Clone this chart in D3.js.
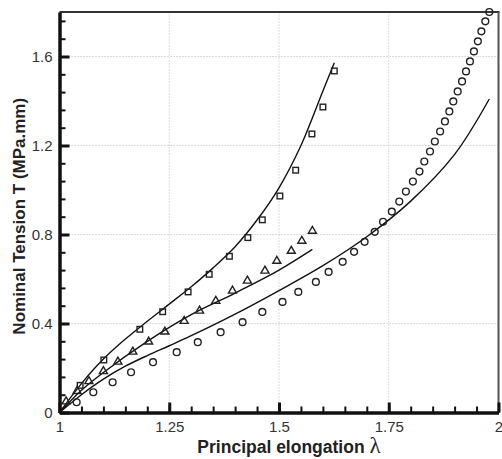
<!DOCTYPE html>
<html>
<head>
<meta charset="utf-8">
<script src="https://cdn.jsdelivr.net/npm/d3@7"></script>
<style>
  body { margin: 0; background: #fff; }
  text { font-family: "Liberation Sans", Arial, sans-serif; }
</style>
</head>
<body>
<div id="plot"></div>
<script>
// measured points (markers)
const sqLambda = [1.047, 1.101, 1.183, 1.235, 1.293, 1.341, 1.387, 1.429, 1.462, 1.502, 1.538, 1.575, 1.600, 1.626];
const sqT      = [0.122, 0.236, 0.374, 0.453, 0.542, 0.621, 0.702, 0.786, 0.866, 0.973, 1.089, 1.252, 1.373, 1.535];

const triLambda = [1.015, 1.040, 1.067, 1.100, 1.133, 1.167, 1.203, 1.240, 1.284, 1.319, 1.356, 1.394, 1.428, 1.468, 1.495, 1.528, 1.552, 1.576];
const triT      = [0.049, 0.096, 0.140, 0.185, 0.228, 0.273, 0.318, 0.363, 0.411, 0.457, 0.501, 0.547, 0.592, 0.637, 0.681, 0.726, 0.771, 0.816];

const cirLambda = [1.039, 1.077, 1.121, 1.163, 1.213, 1.267, 1.315, 1.367, 1.417, 1.462,
                   1.508, 1.544, 1.584, 1.613, 1.645, 1.671, 1.695, 1.718, 1.737, 1.757,
                   1.774, 1.789, 1.805, 1.820, 1.831, 1.844, 1.855, 1.867, 1.878, 1.888,
                   1.897, 1.907, 1.917, 1.926, 1.935, 1.944, 1.953, 1.961, 1.970, 1.979];
const cirT      = [0.046, 0.091, 0.136, 0.181, 0.226, 0.271, 0.316, 0.361, 0.406, 0.452,
                   0.497, 0.542, 0.587, 0.632, 0.677, 0.722, 0.767, 0.812, 0.857, 0.903,
                   0.948, 0.993, 1.038, 1.083, 1.128, 1.173, 1.218, 1.263, 1.308, 1.353,
                   1.398, 1.443, 1.488, 1.533, 1.578, 1.623, 1.668, 1.713, 1.758, 1.800];

// model curves
const sqFitLambda = [1.0, 1.05, 1.1, 1.15, 1.2, 1.25, 1.3, 1.35, 1.4, 1.45, 1.5, 1.55, 1.6, 1.626];
const sqFitT      = [0, 0.13, 0.24, 0.33, 0.41, 0.487, 0.565, 0.65, 0.745, 0.865, 1.01, 1.20, 1.445, 1.572];

const triFitLambda = [1.0, 1.05, 1.1, 1.2, 1.3, 1.4, 1.5, 1.576];
const triFitT      = [0, 0.10, 0.18, 0.32, 0.44, 0.537, 0.64, 0.733];

const cirFitLambda = [1.0, 1.05, 1.1, 1.15, 1.2, 1.25, 1.3, 1.4, 1.5, 1.6, 1.7, 1.8, 1.9, 1.979];
const cirFitT      = [0, 0.08, 0.15, 0.208, 0.256, 0.30, 0.345, 0.442, 0.548, 0.66, 0.79, 0.95, 1.16, 1.409];

const xMajor = [1, 1.25, 1.5, 1.75, 2];
const yMajor = [0, 0.4, 0.8, 1.2, 1.6];

const W = 502, H = 459;

const svg = d3.select('#plot').append('svg')
  .attr('width', W).attr('height', H);

const x = d3.scaleLinear().domain([1, 2]).range([59.5, 498.5]);
const y = d3.scaleLinear().domain([0, 1.8]).range([412.5, 12]);

// dotted grid
svg.append('g').selectAll('line').data(xMajor.slice(1, 4)).join('line')
  .attr('x1', d => x(d)).attr('x2', d => x(d))
  .attr('y1', y(0)).attr('y2', y(1.8))
  .attr('stroke', '#bbb').attr('stroke-width', 1).attr('stroke-dasharray', '1,2');
svg.append('g').selectAll('line').data(yMajor.slice(1)).join('line')
  .attr('x1', x(1)).attr('x2', x(2))
  .attr('y1', d => y(d)).attr('y2', d => y(d))
  .attr('stroke', '#bbb').attr('stroke-width', 1).attr('stroke-dasharray', '1,2');

// top / right frame
svg.append('line').attr('x1', x(1)).attr('x2', x(2) + 1).attr('y1', y(1.8)).attr('y2', y(1.8))
  .attr('stroke', '#333').attr('stroke-width', 2.2);
svg.append('line').attr('x1', x(2)).attr('x2', x(2)).attr('y1', y(1.8)).attr('y2', y(0))
  .attr('stroke', '#555').attr('stroke-width', 2);

// minor ticks
const xMinor = d3.range(1, 2.0001, 0.05);
const yMinor = d3.range(0, 1.8001, 0.08);
svg.append('g').attr('transform', `translate(0,${y(0)})`)
  .call(d3.axisBottom(x).tickValues(xMinor).tickSize(-6).tickSizeOuter(0).tickFormat(''))
  .call(g => g.select('.domain').remove())
  .call(g => g.selectAll('line').attr('stroke', '#111').attr('stroke-width', 2));
svg.append('g').attr('transform', `translate(${x(1)},0)`)
  .call(d3.axisLeft(y).tickValues(yMinor).tickSize(-6).tickSizeOuter(0).tickFormat(''))
  .call(g => g.select('.domain').remove())
  .call(g => g.selectAll('line').attr('stroke', '#111').attr('stroke-width', 2));

// major axes
const xAxis = svg.append('g').attr('transform', `translate(0,${y(0)})`)
  .call(d3.axisBottom(x).tickValues(xMajor).tickSize(-10).tickSizeOuter(0).tickPadding(9)
    .tickFormat(d => d3.format('')(d)));
const yAxis = svg.append('g').attr('transform', `translate(${x(1)},0)`)
  .call(d3.axisLeft(y).tickValues(yMajor).tickSize(-10).tickSizeOuter(0).tickPadding(7)
    .tickFormat(d => d3.format('')(d)));
[xAxis, yAxis].forEach(g => {
  g.select('.domain').attr('stroke', '#111').attr('stroke-width', 3.5);
  g.selectAll('.tick line').attr('stroke', '#111').attr('stroke-width', 3);
  g.selectAll('.tick text').attr('fill', '#333').style('font-size', '15px')
    .style('font-family', '"Liberation Sans", Arial, sans-serif');
});

// model lines
const line = d3.line().x(d => x(d[0])).y(d => y(d[1])).curve(d3.curveCatmullRom.alpha(0.5));
[[sqFitLambda, sqFitT], [triFitLambda, triFitT], [cirFitLambda, cirFitT]].forEach(([lx, ly]) => {
  svg.append('path')
    .datum(lx.map((v, i) => [v, ly[i]]))
    .attr('d', line)
    .attr('fill', 'none').attr('stroke', '#111').attr('stroke-width', 1.4);
});

// markers
const mk = { fill: 'none', stroke: '#222', width: 1.4 };
svg.append('g').selectAll('rect').data(sqLambda.map((v, i) => [v, sqT[i]])).join('rect')
  .attr('x', d => x(d[0]) - 2.8).attr('y', d => y(d[1]) - 2.8)
  .attr('width', 5.6).attr('height', 5.6)
  .attr('fill', mk.fill).attr('stroke', mk.stroke).attr('stroke-width', mk.width);

const tri = d3.symbol().type(d3.symbolTriangle).size(28);
svg.append('g').selectAll('path').data(triLambda.map((v, i) => [v, triT[i]])).join('path')
  .attr('d', tri)
  .attr('transform', d => `translate(${x(d[0])},${y(d[1])})`)
  .attr('fill', mk.fill).attr('stroke', mk.stroke).attr('stroke-width', mk.width);

svg.append('g').selectAll('circle').data(cirLambda.map((v, i) => [v, cirT[i]])).join('circle')
  .attr('cx', d => x(d[0])).attr('cy', d => y(d[1])).attr('r', 3.4)
  .attr('fill', mk.fill).attr('stroke', mk.stroke).attr('stroke-width', mk.width);

// axis titles
svg.append('text')
  .attr('transform', `translate(25,${(y(0) + y(1.8)) / 2 + 4}) rotate(-90)`)
  .attr('text-anchor', 'middle')
  .style('font-size', '17px').style('font-weight', 'bold').attr('fill', '#222')
  .text('Nominal Tension T (MPa.mm)');

const xt = svg.append('text')
  .attr('x', 289).attr('y', 453)
  .attr('text-anchor', 'middle').attr('fill', '#222');
xt.append('tspan').style('font-size', '17.5px').style('font-weight', 'bold').text('Principal elongation ');
xt.append('tspan').style('font-size', '23px').style('font-family', '"Liberation Serif", "DejaVu Serif", serif').text('λ');
</script>
</body>
</html>
